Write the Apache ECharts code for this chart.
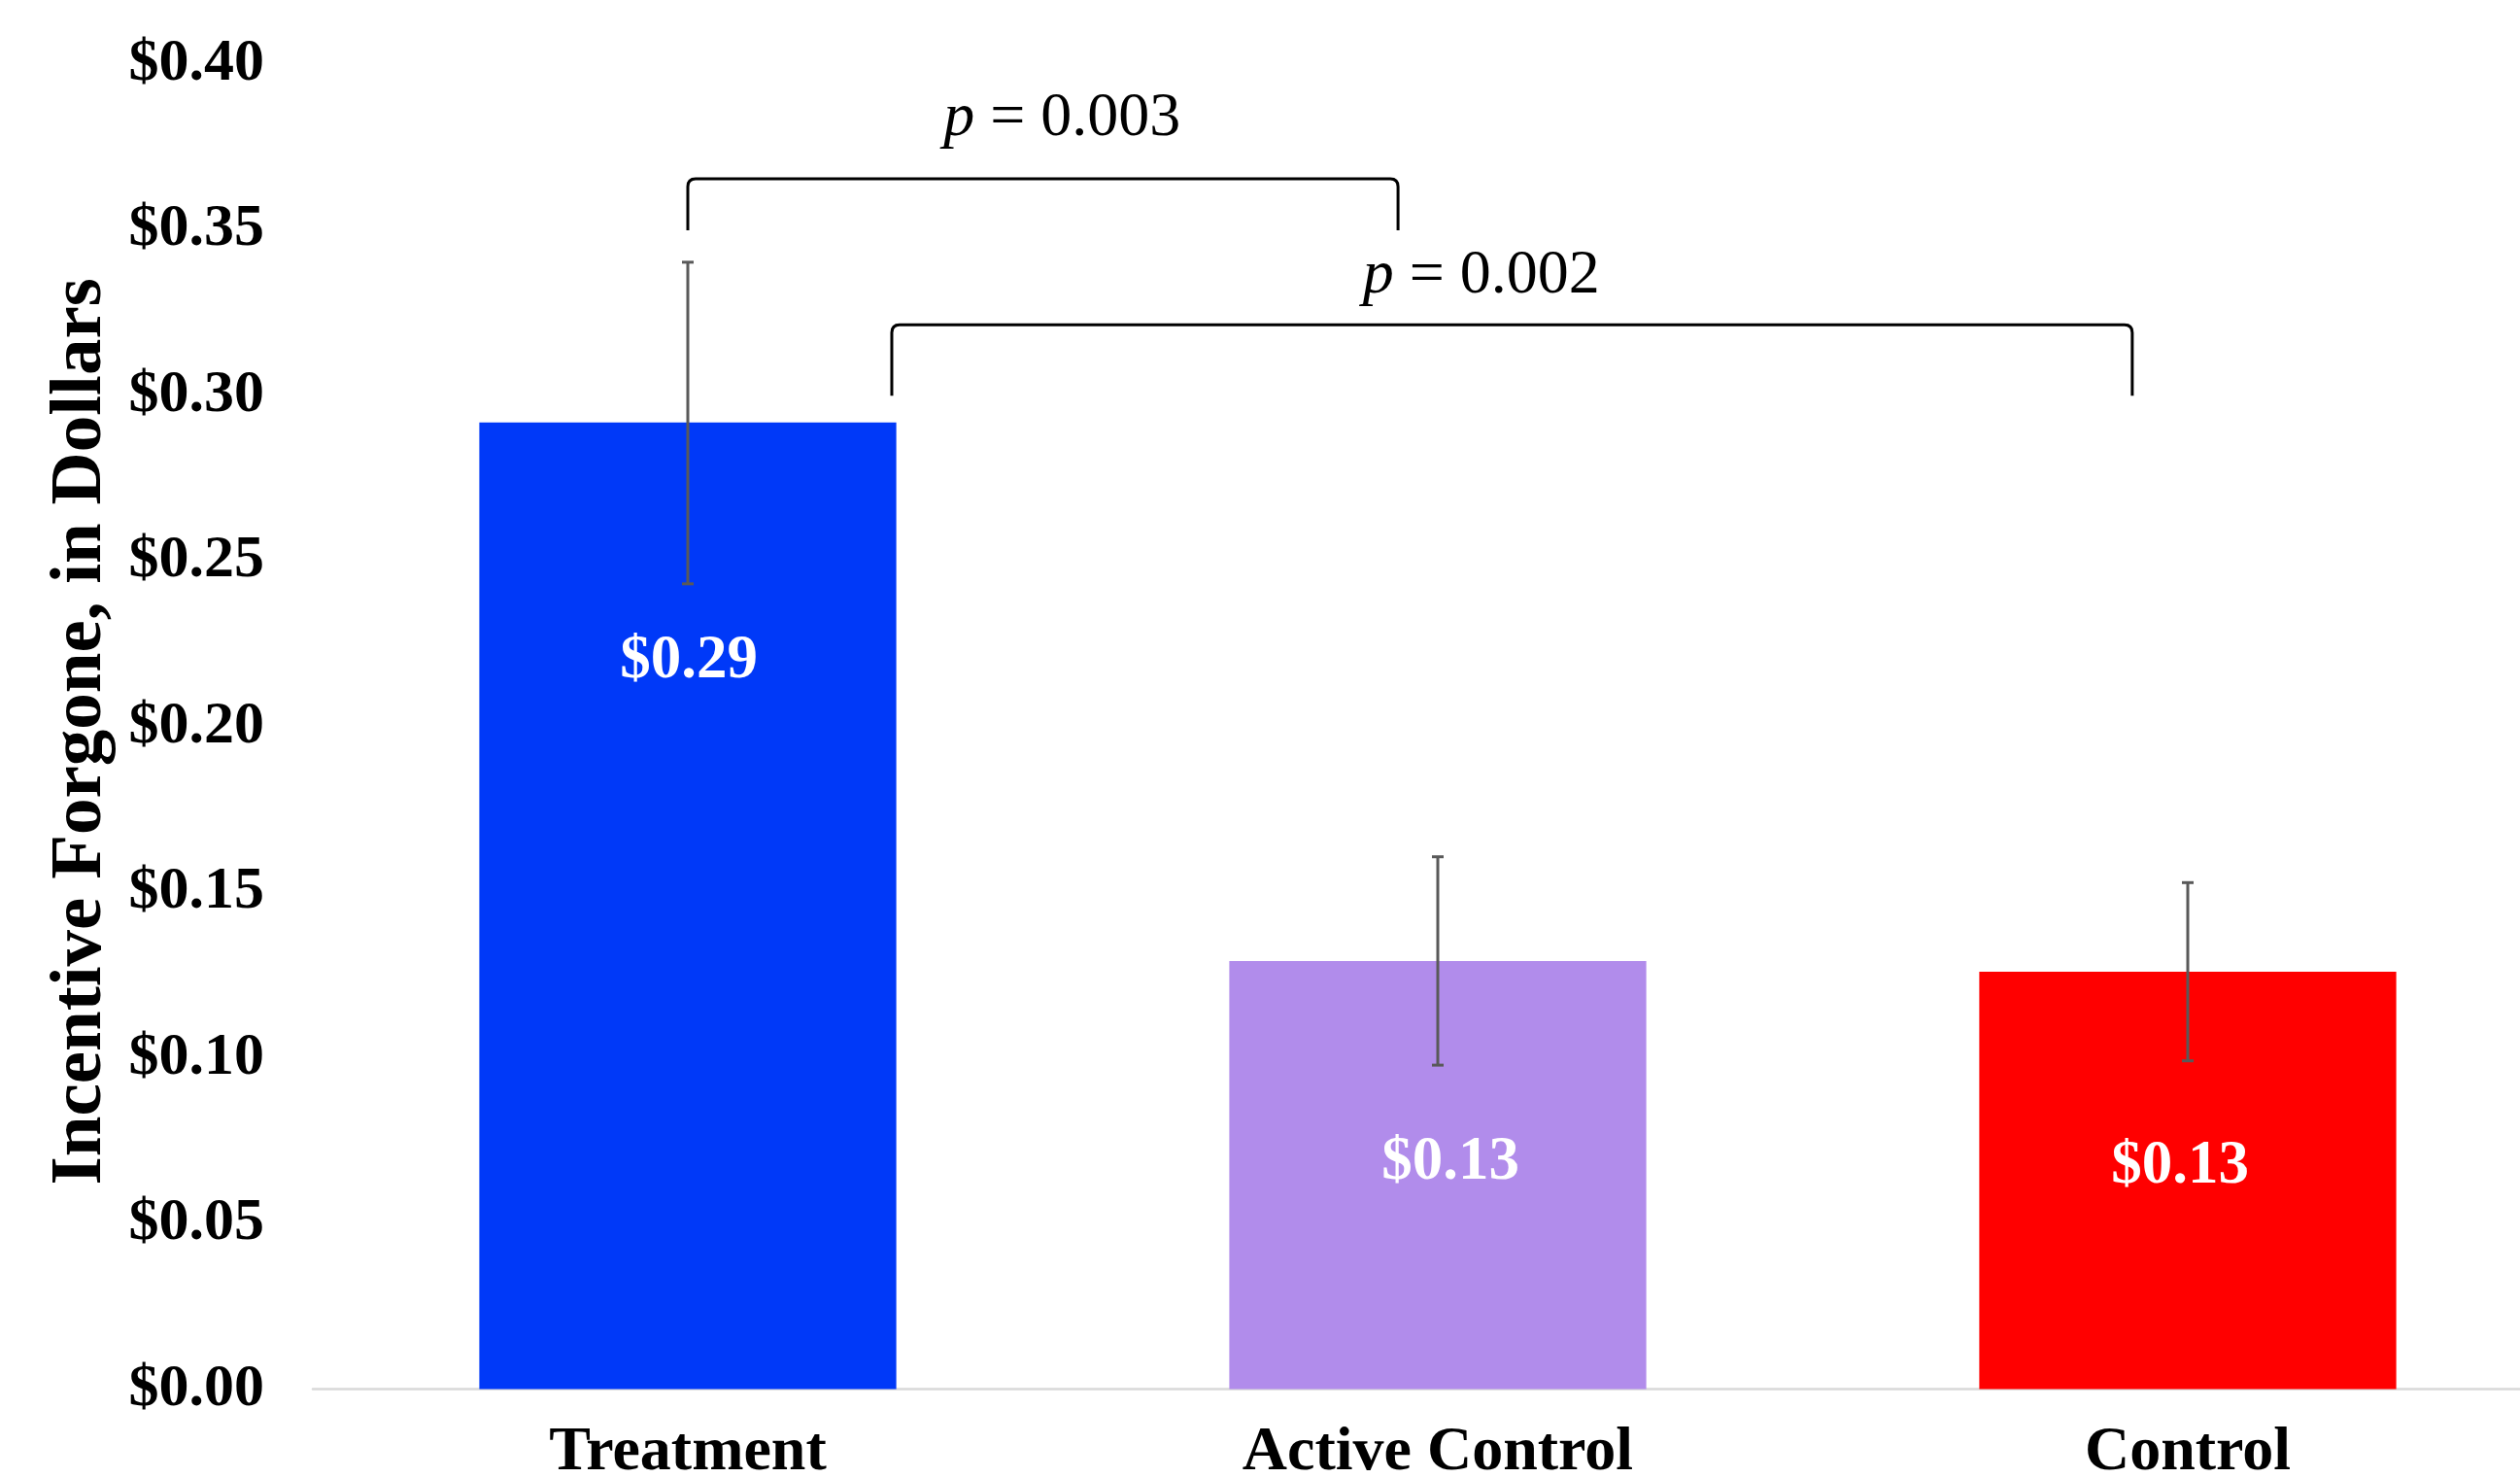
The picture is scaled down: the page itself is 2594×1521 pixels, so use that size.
<!DOCTYPE html>
<html><head><meta charset="utf-8">
<script src="https://cdn.jsdelivr.net/npm/echarts@6/dist/echarts.min.js"></script>
<style>html,body{margin:0;padding:0;background:#fff}#c{width:2594px;height:1521px}</style>
</head><body><div id="c"></div>
<script>
// ---- data ----
const categories = ['Treatment', 'Active Control', 'Control'];
const means = [0.2918, 0.1292, 0.1260];
const errLow = [0.2431, 0.0978, 0.0991];
const errHigh = [0.3402, 0.1607, 0.1529];
const yMin = 0, yMax = 0.40, yStep = 0.05;
// significance brackets (x in category units, y in dollars)
const pLabels = ['0.003', '0.002'];
const bracketFrom = [0.0, 0.272];
const bracketTo = [0.947, 1.926];
const bracketTop = [0.3654, 0.3213];
const bracketFoot = [0.3498, 0.2999];
const pTextX = [0.499, 1.058];
const pTextY = [0.3836, 0.3361];

// ---- styles ----
const FONT = '"Liberation Serif","Times New Roman",serif';
const barColors = ['#0039F8', '#B18CEB', '#FF0000'];
const labelDist = [214, 176, 169];
const labelShiftX = [1, 13, -8];

const chart = echarts.init(document.getElementById('c'), null, {renderer: 'canvas'});
const option = {
  animation: false,
  backgroundColor: '#fff',
  grid: {left: 322, right: -44, top: 66, bottom: 91.5, containLabel: false, outerBoundsMode: 'none'},
  xAxis: [
    {
      type: 'category', data: categories,
      axisLine: {show: true, lineStyle: {color: '#D9D9D9', width: 2.5}},
      axisTick: {show: false},
      axisLabel: {interval: 0, margin: 34, color: '#000', fontFamily: FONT, fontWeight: 'bold', fontSize: 64, lineHeight: 64},
      splitLine: {show: false}
    },
    {type: 'value', min: -0.5, max: 2.5, show: false, splitLine: {show: false}}
  ],
  yAxis: {
    type: 'value', min: yMin, max: yMax, interval: yStep,
    axisLine: {show: false}, axisTick: {show: false}, splitLine: {show: false},
    axisLabel: {margin: 50, color: '#000', fontFamily: FONT, fontWeight: 'bold', fontSize: 62,
      formatter: v => '$' + v.toFixed(2)},
    name: 'Incentive Forgone, in Dollars', nameLocation: 'middle', nameGap: 194,
    nameTextStyle: {color: '#000', fontFamily: FONT, fontWeight: 'bold', fontSize: 75, lineHeight: 75, padding: [0, 10, 0, 0]}
  },
  series: [
    {
      type: 'bar', xAxisIndex: 0, barCategoryGap: '44.4%',
      data: means.map((v, i) => ({value: v, itemStyle: {color: barColors[i]},
        label: {distance: labelDist[i], offset: [labelShiftX[i], 0]}})),
      label: {show: true, position: 'insideTop', color: '#fff', fontFamily: FONT, fontWeight: 'bold',
        fontSize: 63, lineHeight: 63, formatter: p => '$' + p.value.toFixed(2)}
    },
    {
      type: 'custom', xAxisIndex: 0, yAxisIndex: 0, z: 5,
      data: categories.map((c, i) => [i, errLow[i], errHigh[i]]),
      encode: {x: 0, y: [1, 2]},
      renderItem: (params, api) => {
        const lo = api.coord([api.value(0), api.value(1)]);
        const hi = api.coord([api.value(0), api.value(2)]);
        const w = 6, st = {stroke: '#595959', lineWidth: 3};
        return {type: 'group', children: [
          {type: 'line', shape: {x1: lo[0], y1: lo[1], x2: hi[0], y2: hi[1]}, style: st},
          {type: 'line', shape: {x1: lo[0] - w, y1: lo[1], x2: lo[0] + w, y2: lo[1]}, style: st},
          {type: 'line', shape: {x1: hi[0] - w, y1: hi[1], x2: hi[0] + w, y2: hi[1]}, style: st}
        ]};
      }
    },
    {
      type: 'custom', xAxisIndex: 1, yAxisIndex: 0, z: 6, clip: false,
      data: pLabels.map((l, i) => [bracketFrom[i], bracketTo[i], bracketTop[i], bracketFoot[i], pTextX[i], pTextY[i]]),
      encode: {x: [0, 1, 4], y: [2, 3, 5]},
      renderItem: (params, api) => {
        const a = api.coord([api.value(0), api.value(2)]);
        const b = api.coord([api.value(1), api.value(3)]);
        const t = api.coord([api.value(4), api.value(5)]);
        const x1 = a[0], x2 = b[0], yT = a[1], yF = b[1], r = 8;
        const d = `M${x1} ${yF} L${x1} ${yT + r} Q${x1} ${yT} ${x1 + r} ${yT} L${x2 - r} ${yT} Q${x2} ${yT} ${x2} ${yT + r} L${x2} ${yF}`;
        return {type: 'group', children: [
          {type: 'path', shape: {pathData: d}, style: {stroke: '#000', lineWidth: 3, fill: null}},
          {type: 'text', x: t[0], y: t[1], style: {
            text: '{i|p} = ' + pLabels[params.dataIndex],
            rich: {i: {fontStyle: 'italic', fontFamily: FONT, fontSize: 64, fill: '#000'}},
            fontFamily: FONT, fontSize: 64, fill: '#000', align: 'center', verticalAlign: 'middle'}}
        ]};
      }
    }
  ]
};
chart.setOption(option);
</script>
</body></html>
